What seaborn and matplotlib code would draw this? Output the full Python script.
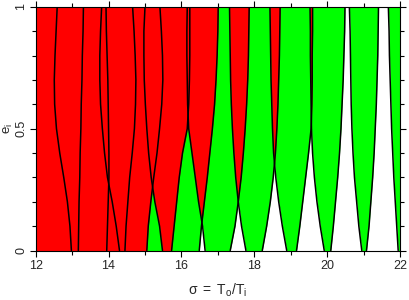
import matplotlib
matplotlib.use('Agg')

import numpy as np
import matplotlib.pyplot as plt
import seaborn as sns

# eccentricity levels at which the tongue edges were read
e_levels = [0.0, 0.1, 0.2, 0.3, 0.4, 0.5, 0.6, 0.7, 0.8, 0.9, 1.0]

# left / right edges of each resonance tongue (sigma values)
L11 = [11.0, 11.0, 11.0, 11.0, 11.0, 11.0, 11.0, 11.0, 11.0, 11.0, 11.0]
R11 = [13.17, 13.18, 13.19, 13.21, 13.22, 13.24, 13.25, 13.27, 13.28, 13.30, 13.31]
L12 = [11.0, 11.0, 11.0, 11.0, 11.0, 11.0, 11.0, 11.0, 11.0, 11.0, 11.0]
R12 = [13.95, 13.97, 13.99, 14.01, 14.01, 14.00, 13.99, 13.98, 13.96, 13.94, 13.93]
L13 = [11.0, 11.0, 11.0, 11.0, 11.0, 11.0, 11.0, 11.0, 11.0, 11.0, 11.0]
R13 = [14.45, 14.48, 14.53, 14.58, 14.65, 14.71, 14.74, 14.75, 14.73, 14.70, 14.66]
L14 = [12.98, 12.94, 12.87, 12.77, 12.66, 12.57, 12.52, 12.51, 12.53, 12.56, 12.59]
R14 = [15.05, 15.09, 15.16, 15.24, 15.33, 15.40, 15.46, 15.49, 15.48, 15.45, 15.41]
L15 = [14.30, 14.21, 14.10, 13.97, 13.89, 13.83, 13.78, 13.76, 13.76, 13.78, 13.81]
R15 = [15.73, 15.80, 15.87, 15.94, 16.03, 16.16, 16.20, 16.22, 16.23, 16.23, 16.23]
L16 = [15.48, 15.40, 15.27, 15.17, 15.10, 15.05, 15.01, 14.98, 14.97, 14.97, 15.00]
R16 = [16.49, 16.55, 16.63, 16.71, 16.78, 16.85, 16.91, 16.95, 16.98, 17.00, 17.01]
L17 = [16.65, 16.58, 16.47, 16.38, 16.29, 16.20, 16.17, 16.16, 16.15, 16.15, 16.16]
R17 = [17.34, 17.47, 17.56, 17.64, 17.70, 17.75, 17.79, 17.82, 17.84, 17.85, 17.86]
L18 = [17.77, 17.65, 17.56, 17.49, 17.44, 17.40, 17.37, 17.35, 17.34, 17.33, 17.32]
R18 = [18.22, 18.34, 18.44, 18.52, 18.58, 18.62, 18.65, 18.67, 18.69, 18.70, 18.71]
L19 = [18.89, 18.77, 18.67, 18.59, 18.53, 18.50, 18.48, 18.46, 18.45, 18.44, 18.43]
R19 = [19.16, 19.25, 19.33, 19.41, 19.49, 19.56, 19.58, 19.59, 19.59, 19.60, 19.60]
L20 = [19.92, 19.81, 19.72, 19.65, 19.60, 19.57, 19.56, 19.55, 19.54, 19.54, 19.53]
R20 = [20.10, 20.17, 20.23, 20.29, 20.34, 20.38, 20.41, 20.44, 20.46, 20.48, 20.49]
L21 = [20.95, 20.87, 20.81, 20.75, 20.71, 20.68, 20.66, 20.65, 20.64, 20.63, 20.61]
R21 = [21.08, 21.15, 21.20, 21.25, 21.29, 21.32, 21.35, 21.37, 21.39, 21.40, 21.41]
L22 = [21.95, 21.91, 21.87, 21.83, 21.80, 21.77, 21.75, 21.73, 21.71, 21.70, 21.68]
R22 = [22.05, 22.10, 22.15, 22.20, 22.24, 22.27, 22.30, 22.32, 22.34, 22.35, 22.36]

tongues = [(L11, R11), (L12, R12), (L13, R13), (L14, R14), (L15, R15), (L16, R16),
           (L17, R17), (L18, R18), (L19, R19), (L20, R20), (L21, R21), (L22, R22)]

x_ticks = [12, 14, 16, 18, 20, 22]
y_ticks = [0, 0.5, 1]
y_ticklabels = ['0', '0.5', '1']

sns.set_theme(style='ticks')
plt.rcParams['font.family'] = ['Liberation Sans', 'DejaVu Sans']
plt.rcParams['mathtext.fontset'] = 'custom'
plt.rcParams['mathtext.rm'] = 'Liberation Sans'
plt.rcParams['mathtext.it'] = 'Liberation Sans'
plt.rcParams['axes.linewidth'] = 0.8

fig = plt.figure(figsize=(4.09, 3.0), dpi=100)
ax = fig.add_axes([35.7 / 409, 1 - 250.5 / 300, (400 - 35.7) / 409, (250.5 - 6.8) / 300])

E = np.array(e_levels)
# single resonance -> green
for lo, hi in tongues:
    ax.fill_betweenx(E, lo, hi, color='#00ff00', lw=0, zorder=1)
# overlapping resonances -> red
for i in range(len(tongues)):
    for j in range(i + 1, len(tongues)):
        lo = np.maximum(tongues[i][0], tongues[j][0])
        hi = np.minimum(tongues[i][1], tongues[j][1])
        ax.fill_betweenx(E, lo, hi, where=hi > lo, interpolate=True,
                         color='#ff0000', lw=0, zorder=2)

for lo, hi in tongues:
    for edge in (lo, hi):
        sns.lineplot(x=edge, y=e_levels, sort=False, estimator=None,
                     color='black', lw=1.1, ax=ax, zorder=3)

ax.set_xlim(12, 22)
ax.set_ylim(0, 1)
ax.set_xticks(x_ticks)
ax.set_xticks(np.arange(13, 22, 2), minor=True)
ax.set_yticks(y_ticks)
ax.set_yticks(np.arange(0.1, 1.0, 0.1), minor=True)
ax.set_yticklabels(y_ticklabels, rotation=90, va='center')
ax.tick_params(which='both', direction='out', color='black', width=0.8,
               top=True, right=True, labelsize=9, pad=2.5)
ax.tick_params(axis='y', which='major', pad=1.5)
ax.tick_params(which='major', length=4.5)
ax.tick_params(which='minor', length=2.8)
for s in ax.spines.values():
    s.set_color('black')
    s.set_zorder(5)

ax.set_xlabel(r'$\sigma\ =\ \mathrm{T_o/T_i}$', fontsize=10, labelpad=7)
ax.set_ylabel(r'$\mathrm{e_i}$', fontsize=9.5)
ax.yaxis.set_label_coords(-0.058, 0.5)

fig.savefig('out.png', dpi=100)
